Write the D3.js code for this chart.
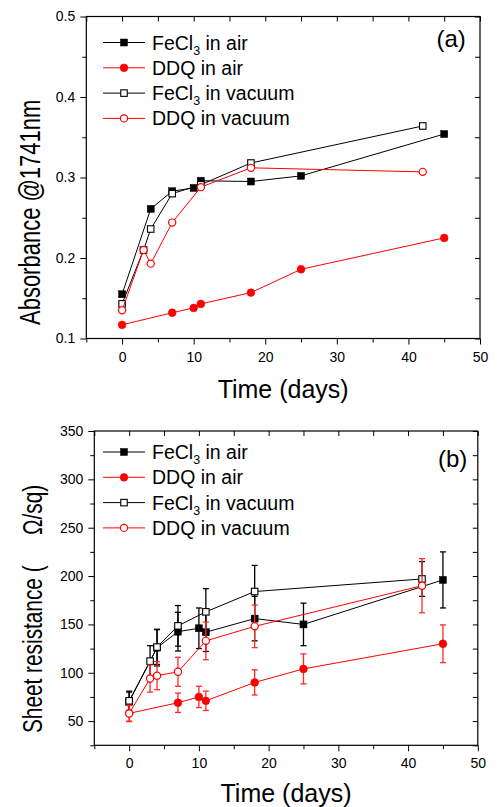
<!DOCTYPE html>
<html><head><meta charset="utf-8">
<script src="https://cdn.jsdelivr.net/npm/d3@7"></script>
<style>
body{margin:0;background:#fff}
text{font-family:"Liberation Sans",Arial,sans-serif;fill:#000}
</style>
</head><body>
<svg id="chart" width="501" height="807"></svg>
<script>
// ---------- data ----------
const dayTicks = [0, 10, 20, 30, 40, 50];
const dayMinor = [-5, 5, 15, 25, 35, 45];
const absTicks = [0.1, 0.2, 0.3, 0.4, 0.5];
const absMinor = [0.15, 0.25, 0.35, 0.45];
const resTicks = [50, 100, 150, 200, 250, 300, 350];
const resMinor = [25, 75, 125, 175, 225, 275, 325];

const seriesNames = ["FeCl3 in air", "DDQ in air", "FeCl3 in vacuum", "DDQ in vacuum"];

// (a) absorbance @1741nm
const absFeAirDays = [0, 4, 7, 10, 11, 18, 25, 45];
const absFeAir     = [0.155, 0.261, 0.283, 0.287, 0.296, 0.295, 0.302, 0.354];
const absDdqAirDays = [0, 7, 10, 11, 18, 25, 45];
const absDdqAir     = [0.117, 0.132, 0.138, 0.143, 0.157, 0.186, 0.225];
const absFeVacDays = [0, 3, 4, 7, 11, 18, 42];
const absFeVac     = [0.143, 0.210, 0.236, 0.280, 0.291, 0.318, 0.364];
const absDdqVacDays = [0, 3, 4, 7, 11, 18, 42];
const absDdqVac     = [0.135, 0.210, 0.193, 0.244, 0.288, 0.312, 0.307];

// (b) sheet resistance (Ω/sq) with error bars
const resFeAirDays = [0, 4, 7, 10, 11, 18, 25, 45];
const resFeAir     = [70, 126, 142.5, 146, 142, 156, 150, 196];
const resFeAirErr  = [10, 19, 20, 21, 20, 23, 22, 29];
const resDdqAirDays = [0, 7, 10, 11, 18, 25, 45];
const resDdqAir     = [58, 69, 75, 71, 90, 104, 130];
const resDdqAirErr  = [8, 10, 11, 10, 13, 15.5, 19.5];
const resFeVacDays = [0, 3, 4, 7, 11, 18, 42];
const resFeVac     = [71, 112, 126.6, 148.5, 163, 184, 197];
const resFeVacErr  = [10, 16, 18, 21, 24, 27, 18];
const resDdqVacDays = [0, 3, 4, 7, 11, 18, 42];
const resDdqVac     = [58, 94, 97, 101, 133, 148, 190];
const resDdqVacErr  = [8.5, 14, 14.5, 15, 19.5, 22, 28];

// ---------- styles ----------
const styles = [
  {color: "#000", marker: "square", fill: true},
  {color: "#ff0000", marker: "circle", fill: true},
  {color: "#000", marker: "square", fill: false},
  {color: "#ff0000", marker: "circle", fill: false}
];
const errColors = ["#000", "#ff2a2a", "#000", "#ff2a2a"];

const svg = d3.select("#chart");

function zip(days, vals, errs) {
  return days.map((d, i) => ({x: d, y: vals[i], e: errs ? errs[i] : null}));
}

function drawMarker(g, st, cx, cy) {
  if (st.marker === "square") {
    const s = st.fill ? 7 : 6.5;
    g.append("rect").attr("x", cx - s / 2).attr("y", cy - s / 2).attr("width", s).attr("height", s)
      .attr("fill", st.fill ? st.color : "#fff").attr("stroke", st.color).attr("stroke-width", st.fill ? 0.5 : 1.1);
  } else {
    g.append("circle").attr("cx", cx).attr("cy", cy).attr("r", st.fill ? 3.9 : 3.6)
      .attr("fill", st.fill ? st.color : "#fff").attr("stroke", st.color).attr("stroke-width", st.fill ? 0.5 : 1.2);
  }
}

function legendLabel(t, name, size) {
  const m = name.match(/^(FeCl)(3)(.*)$/);
  if (m) {
    t.append("tspan").text(m[1]);
    t.append("tspan").text(m[2]).attr("font-size", size * 0.64).attr("dy", 5);
    t.append("tspan").text(m[3]).attr("dy", -5);
  } else {
    t.text(name);
  }
}

function panel(cfg) {
  const g = svg.append("g");
  const x = d3.scaleLinear().domain([-5, 50]).range([cfg.L, cfg.R]);
  const y = d3.scaleLinear().domain(cfg.yDom).range([cfg.B, cfg.T]);
  const fs = 14;

  g.append("g").attr("transform", `translate(0,${cfg.B})`)
    .call(d3.axisBottom(x).tickValues(dayTicks).tickSize(6).tickPadding(cfg.xPad).tickFormat(d3.format("d")));
  g.append("g").attr("transform", `translate(0,${cfg.B})`)
    .call(d3.axisBottom(x).tickValues(dayMinor).tickSize(4).tickFormat(""));
  g.append("g").attr("transform", `translate(0,${cfg.T})`)
    .call(d3.axisTop(x).tickValues(dayTicks.concat(dayMinor)).tickSize(-5).tickFormat(""));
  g.append("g").attr("transform", `translate(${cfg.L},0)`)
    .call(d3.axisLeft(y).tickValues(cfg.yMajor).tickSize(6).tickPadding(5).tickFormat(cfg.fmt));
  g.append("g").attr("transform", `translate(${cfg.L},0)`)
    .call(d3.axisLeft(y).tickValues(cfg.yMinor).tickSize(4).tickFormat(""));
  g.append("g").attr("transform", `translate(${cfg.R},0)`)
    .call(d3.axisRight(y).tickValues(cfg.yMajor.concat(cfg.yMinor)).tickSize(-5).tickFormat(""));

  g.selectAll(".domain").remove();
  g.selectAll(".tick line").attr("stroke", "#000").attr("stroke-width", 1);
  g.selectAll(".tick text").attr("font-size", fs).attr("font-family", "Liberation Sans, Arial, sans-serif").attr("fill", "#000");

  g.append("rect").attr("x", cfg.L).attr("y", cfg.T).attr("width", cfg.R - cfg.L).attr("height", cfg.B - cfg.T)
    .attr("fill", "none").attr("stroke", "#000").attr("stroke-width", 1.2);

  const line = d3.line().x(d => x(d.x)).y(d => y(d.y));

  cfg.series.forEach((data, i) => {
    const st = styles[i];
    const sg = g.append("g");
    if (cfg.errors) {
      data.forEach(d => {
        const cx = x(d.x), y1 = y(d.y + d.e), y2 = y(d.y - d.e);
        sg.append("line").attr("x1", cx).attr("x2", cx).attr("y1", y1).attr("y2", y2)
          .attr("stroke", errColors[i]).attr("stroke-width", 1.3);
        [y1, y2].forEach(yy => sg.append("line").attr("x1", cx - 3).attr("x2", cx + 3).attr("y1", yy).attr("y2", yy)
          .attr("stroke", errColors[i]).attr("stroke-width", 1.3));
      });
    }
    sg.append("path").datum(data).attr("d", line).attr("fill", "none")
      .attr("stroke", st.color).attr("stroke-width", 1);
    data.forEach(d => drawMarker(sg, st, x(d.x), y(d.y)));
  });

  seriesNames.forEach((name, i) => {
    const st = styles[i];
    const ly = cfg.legY + i * 25.3;
    g.append("line").attr("x1", 103).attr("x2", 145).attr("y1", ly).attr("y2", ly)
      .attr("stroke", st.color).attr("stroke-width", 1);
    drawMarker(g, st, 124, ly);
    const t = g.append("text").attr("x", 152).attr("y", ly + 7).attr("font-size", 19.5);
    legendLabel(t, name, 19.5);
  });

  g.append("text").attr("x", cfg.letX).attr("y", cfg.letY).attr("font-size", 24).text(cfg.letter);

  g.append("text").attr("x", (cfg.L + cfg.R) / 2).attr("y", cfg.titleY).attr("text-anchor", "middle")
    .attr("font-size", 25).text("Time (days)");

  cfg.yLabels.forEach(p => {
    g.append("text").attr("transform", `translate(${p.x},${p.y}) rotate(-90) scale(1,1.33)`)
      .attr("font-size", p.size).text(p.text);
  });
}

panel({
  L: 86.3, R: 480, T: 16.5, B: 338.5,
  yDom: [0.1, 0.5], yMajor: absTicks, yMinor: absMinor, fmt: d3.format(".1f"),
  xPad: 8,
  series: [zip(absFeAirDays, absFeAir), zip(absDdqAirDays, absDdqAir), zip(absFeVacDays, absFeVac), zip(absDdqVacDays, absDdqVac)],
  errors: false,
  legY: 42.5, letter: "(a)", letX: 436.5, letY: 46.5, titleY: 398,
  yLabels: [{text: "Absorbance @1741nm", x: 40, y: 325, size: 22}]
});

panel({
  L: 94.3, R: 477.8, T: 431, B: 745.3,
  yDom: [25, 350], yMajor: resTicks, yMinor: resMinor, fmt: d3.format("d"),
  xPad: 7,
  series: [zip(resFeAirDays, resFeAir, resFeAirErr), zip(resDdqAirDays, resDdqAir, resDdqAirErr),
           zip(resFeVacDays, resFeVac, resFeVacErr), zip(resDdqVacDays, resDdqVac, resDdqVacErr)],
  errors: true,
  legY: 452, letter: "(b)", letX: 438, letY: 467, titleY: 801.5,
  yLabels: [{text: "Sheet resistance (", x: 41.7, y: 733, size: 20.8},
            {text: "Ω/sq)", x: 41.7, y: 535, size: 20.8}]
});
</script>
</body></html>
